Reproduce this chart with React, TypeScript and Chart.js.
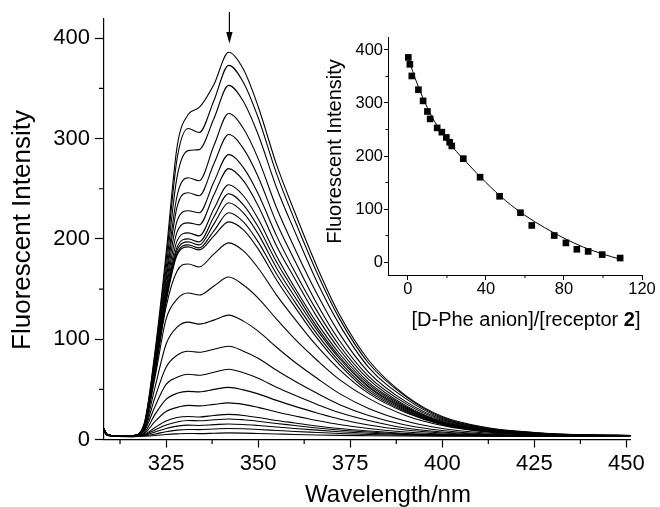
import React, { useEffect, useRef } from "react";
import { Chart, registerables } from "chart.js";

Chart.register(...registerables);

// ---------- Main spectra data ----------
const WAVELENGTHS = [308, 309, 312, 316, 319, 322, 325, 328, 331, 334, 338, 342, 346, 350, 355, 360, 366, 372, 380, 390, 400, 412, 425, 440, 452];

const S01 = [11, 5, 3.5, 3.8, 15, 88, 185, 292, 324, 331, 354, 386, 369, 332, 274, 226, 172, 125, 79, 44, 23, 12, 7, 4.5, 4];
const S02 = [11, 5, 3.5, 3.8, 14.5, 85, 178, 280, 310, 306, 338, 373, 356, 321, 265, 218, 166, 121, 76, 43, 22, 11.5, 6.8, 4.5, 4];
const S03 = [11, 5, 3.5, 3.8, 14, 82, 170, 262, 288, 289, 320, 353, 337, 304, 251, 207, 157, 115, 72, 41, 21, 11, 6.5, 4.4, 4];
const S04 = [11, 5, 3.5, 3.8, 13.5, 80, 163, 243, 261, 258, 293, 325, 310, 280, 231, 190, 145, 106, 67, 38, 20, 10.5, 6.3, 4.3, 4];
const S05 = [11, 5, 3.5, 3.8, 13, 78, 158, 232, 246, 243, 275, 304, 290, 262, 216, 178, 135, 99, 63, 36, 19, 10, 6, 4.3, 4];
const S06 = [11, 5, 3.5, 3.8, 13, 76, 152, 218, 228, 226, 257, 284, 271, 245, 203, 167, 128, 94, 60, 34, 18, 9.5, 5.8, 4.2, 4];
const S07 = [11, 5, 3.5, 3.8, 13, 74, 148, 207, 216, 214, 244, 270, 258, 233, 193, 160, 122, 90, 57, 33, 17.5, 9.3, 5.7, 4.2, 4];
const S08 = [11, 5, 3.5, 3.8, 12.5, 72, 144, 198, 206, 203, 230, 254, 243, 220, 183, 151, 116, 86, 55, 32, 17, 9, 5.6, 4.2, 4];
const S09 = [11, 5, 3.5, 3.8, 12.5, 71, 142, 192, 200, 197, 222, 245, 234, 212, 177, 147, 112, 83, 53, 31, 16.5, 8.8, 5.5, 4.1, 4];
const S10 = [11, 5, 3.5, 3.8, 12.5, 70, 140, 189, 197, 194, 215, 236, 226, 205, 171, 142, 109, 81, 52, 30, 16, 8.6, 5.4, 4.1, 4];
const S11 = [11, 5, 3.5, 3.8, 12, 69, 139, 186, 194, 191, 208, 226, 217, 197, 165, 137, 105, 78, 50, 29, 15.5, 8.4, 5.3, 4.1, 4];
const S12 = [11, 5, 3.5, 3.8, 12, 68, 137, 184, 192, 189, 203, 217, 209, 190, 159, 132, 101, 75, 48, 28, 15, 8.2, 5.2, 4, 4];
const S13 = [11, 5, 3.5, 3.7, 12, 66, 132, 168, 175, 172, 185, 196, 188, 171, 144, 120, 93, 70, 46, 27, 15, 8, 5, 4, 4];
const S14 = [11, 5, 3.5, 3.6, 11, 62, 120, 140, 146, 144, 153, 162, 154, 141, 120, 100, 79, 60, 41, 24, 14, 7.5, 4.8, 4, 4];
const S15 = [10.5, 5, 3.4, 3.5, 10, 52, 95, 112, 117, 115, 119, 124, 118, 108, 92, 77, 61, 46, 31, 18.5, 11, 6.5, 4.5, 4, 4];
const S16 = [10.5, 5, 3.4, 3.4, 9, 42, 72, 84, 88, 87, 90, 93, 88, 81, 69, 58, 46, 35, 24, 14.5, 9, 5.5, 4.2, 3.9, 4];
const S17 = [10, 4.8, 3.3, 3.3, 8, 33, 55, 62, 65, 64, 67, 70, 66.5, 61, 52, 44, 35, 27, 19, 11.5, 7.5, 5, 4, 3.8, 4];
const S18 = [10, 4.8, 3.3, 3.2, 6.5, 25, 40, 46, 48, 47.5, 50, 52, 49.5, 45.5, 39, 33, 26.5, 20.5, 14.5, 9.5, 6.5, 4.5, 3.8, 3.7, 4];
const S19 = [10, 4.6, 3.2, 3.1, 5.5, 18, 28, 32, 34, 33.5, 35, 36.5, 35, 32, 27.5, 23.5, 19, 15, 11, 7.5, 5.5, 4.2, 3.7, 3.6, 4];
const S20 = [9.5, 4.5, 3.2, 3, 4.8, 12, 18.5, 22, 23, 22.5, 24, 25, 24, 22, 19, 16.5, 13.5, 11, 8.5, 6, 4.8, 3.9, 3.6, 3.5, 3.8];
const S21 = [9.5, 4.5, 3.1, 3, 4.4, 9.5, 14.5, 17.5, 19, 18.7, 19.7, 20.5, 19.7, 18.2, 16, 14, 11.5, 9.5, 7.5, 5.5, 4.5, 3.8, 3.5, 3.5, 3.8];
const S22 = [9, 4.4, 3.1, 3, 4, 7.5, 11, 13.3, 14.3, 14, 14.8, 15.5, 15, 14, 12.5, 11, 9.3, 7.8, 6.3, 5, 4.2, 3.7, 3.5, 3.4, 3.7];
const S23 = [9, 4.3, 3, 2.9, 3.7, 5.5, 7.8, 9.3, 10, 9.8, 10.4, 11, 10.7, 10, 9, 8, 7, 6, 5, 4.3, 3.8, 3.5, 3.4, 3.4, 3.6];
const S24 = [9, 4.2, 3, 2.9, 3.3, 4, 5, 5.6, 6, 5.9, 6.2, 6.6, 6.4, 6, 5.5, 5, 4.5, 4.1, 3.8, 3.5, 3.3, 3.2, 3.2, 3.3, 3.5];

const SPECTRA = [S01, S02, S03, S04, S05, S06, S07, S08, S09, S10, S11, S12, S13, S14, S15, S16, S17, S18, S19, S20, S21, S22, S23, S24];

const X_TICKS = [325, 350, 375, 400, 425, 450];
const X_MINOR = [312.5, 337.5, 362.5, 387.5, 412.5, 437.5];
const Y_TICKS = [0, 100, 200, 300, 400];
const Y_MINOR = [50, 150, 250, 350];
const ARROW_AT = 342.2;

const X_TITLE = "Wavelength/nm";
const Y_TITLE = "Fluorescent Intensity";

// ---------- Inset titration data ----------
const RATIO = [0.2, 1, 2, 5.4, 7.8, 10, 11.4, 15, 17.4, 19.7, 21.4, 22.5, 28.4, 37, 47, 57.7, 63.5, 75, 81, 86.6, 92.4, 99.6, 108.8];
const INTENSITY = [386, 373, 351, 325, 304, 284, 270, 253, 245, 235, 226, 219, 195, 160, 124, 93, 69, 50, 36, 24, 20, 14, 7.5];
const FIT_X = [0, 5, 10, 15, 20, 25, 30, 40, 50, 60, 70, 80, 90, 100, 109];
const FIT_Y = [386, 334, 291, 257, 230, 208, 188, 150, 116, 88, 65, 45, 28, 15, 5];

const INSET_X_TICKS = [0, 40, 80, 120];
const INSET_X_MINOR = [20, 60, 100];
const INSET_Y_TICKS = [0, 100, 200, 300, 400];
const INSET_Y_MINOR = [50, 150, 250, 350];
const INSET_X_TITLE_PARTS = [
  { text: "[D-Phe anion]/[receptor ", bold: false },
  { text: "2", bold: true },
  { text: "]", bold: false },
];
const INSET_Y_TITLE = "Fluorescent Intensity";

const FONT = '"Liberation Sans", Arial, Helvetica, sans-serif';
const INK = "#000";

function MainChart() {
  const ref = useRef<HTMLCanvasElement | null>(null);
  useEffect(() => {
    if (!ref.current) return;
    const decor = {
      id: "mainDecor",
      afterDraw(chart: any) {
        const { ctx, chartArea, scales } = chart;
        const x = scales.x;
        const y = scales.y;
        ctx.save();
        ctx.strokeStyle = INK;
        ctx.fillStyle = INK;
        ctx.lineWidth = 1.2;
        ctx.beginPath();
        X_MINOR.forEach((v) => {
          const px = x.getPixelForValue(v);
          ctx.moveTo(px, chartArea.bottom);
          ctx.lineTo(px, chartArea.bottom + 4.5);
        });
        Y_MINOR.forEach((v) => {
          const py = y.getPixelForValue(v);
          ctx.moveTo(chartArea.left, py);
          ctx.lineTo(chartArea.left - 5, py);
        });
        ctx.stroke();
        // arrow
        const ax = x.getPixelForValue(ARROW_AT);
        ctx.beginPath();
        ctx.moveTo(ax, 12);
        ctx.lineTo(ax, 36);
        ctx.stroke();
        ctx.beginPath();
        ctx.moveTo(ax - 3.2, 32);
        ctx.lineTo(ax + 3.2, 32);
        ctx.lineTo(ax, 43.5);
        ctx.closePath();
        ctx.fill();
        // titles
        ctx.textAlign = "center";
        ctx.textBaseline = "middle";
        ctx.font = `24px ${FONT}`;
        ctx.fillText(X_TITLE, 388, 495);
        ctx.translate(23, 230);
        ctx.rotate(-Math.PI / 2);
        ctx.font = `26px ${FONT}`;
        ctx.fillText(Y_TITLE, 0, 0);
        ctx.restore();
      },
    };
    const datasets = SPECTRA.map((s, i) => ({
      label: `spectrum ${i + 1}`,
      data: WAVELENGTHS.map((w, j) => ({ x: w, y: s[j] })),
      borderColor: INK,
      borderWidth: 1.1,
      pointRadius: 0,
      fill: false,
      cubicInterpolationMode: "monotone" as const,
    }));
    const chart = new Chart(ref.current, {
      type: "line",
      data: { datasets },
      options: {
        responsive: false,
        animation: false,
        devicePixelRatio: 1,
        events: [],
        layout: { padding: { left: 0, right: 29.5, top: 13, bottom: 0 } },
        plugins: { legend: { display: false }, tooltip: { enabled: false } },
        scales: {
          x: {
            type: "linear",
            min: 308.15,
            max: 451.1,
            afterFit: (s: any) => {
              s.height = 67.5;
            },
            afterBuildTicks: (s: any) => {
              s.ticks = X_TICKS.map((v) => ({ value: v }));
            },
            grid: { drawOnChartArea: false, tickLength: 8, tickColor: INK, tickWidth: 1.2 },
            border: { display: true, color: INK, width: 1.2 },
            ticks: {
              font: { size: 22, family: FONT },
              color: INK,
              padding: 3,
              maxRotation: 0,
              autoSkip: false,
              callback: (v: any) => String(v),
            },
          },
          y: {
            type: "linear",
            min: 0,
            max: 420,
            afterFit: (s: any) => {
              s.width = 104;
            },
            afterBuildTicks: (s: any) => {
              s.ticks = Y_TICKS.map((v) => ({ value: v }));
            },
            grid: { drawOnChartArea: false, tickLength: 9, tickColor: INK, tickWidth: 1.2 },
            border: { display: true, color: INK, width: 1.2 },
            ticks: {
              font: { size: 22, family: FONT },
              color: INK,
              padding: 5,
              autoSkip: false,
              callback: (v: any) => String(v),
            },
          },
        },
      },
      plugins: [decor],
    });
    return () => chart.destroy();
  }, []);
  return (
    <canvas
      ref={ref}
      width={660}
      height={507}
      style={{ position: "absolute", left: 0, top: 0, width: 660, height: 507 }}
    />
  );
}

function InsetChart() {
  const ref = useRef<HTMLCanvasElement | null>(null);
  useEffect(() => {
    if (!ref.current) return;
    const decor = {
      id: "insetDecor",
      afterDraw(chart: any) {
        const { ctx, chartArea, scales } = chart;
        const x = scales.x;
        const y = scales.y;
        ctx.save();
        ctx.strokeStyle = INK;
        ctx.fillStyle = INK;
        ctx.lineWidth = 1;
        ctx.beginPath();
        INSET_X_MINOR.forEach((v) => {
          const px = x.getPixelForValue(v);
          ctx.moveTo(px, chartArea.bottom);
          ctx.lineTo(px, chartArea.bottom + 3);
        });
        INSET_Y_MINOR.forEach((v) => {
          const py = y.getPixelForValue(v);
          ctx.moveTo(chartArea.left, py);
          ctx.lineTo(chartArea.left - 2.5, py);
        });
        ctx.stroke();
        // x title with bold "2"
        ctx.textBaseline = "middle";
        ctx.textAlign = "left";
        const fontFor = (b: boolean) => `${b ? "bold " : ""}20px ${FONT}`;
        let total = 0;
        INSET_X_TITLE_PARTS.forEach((p) => {
          ctx.font = fontFor(p.bold);
          total += ctx.measureText(p.text).width;
        });
        let cx = 211 - total / 2;
        INSET_X_TITLE_PARTS.forEach((p) => {
          ctx.font = fontFor(p.bold);
          ctx.fillText(p.text, cx, 295);
          cx += ctx.measureText(p.text).width;
        });
        // y title
        ctx.textAlign = "center";
        ctx.translate(20.5, 126.5);
        ctx.rotate(-Math.PI / 2);
        ctx.font = `20px ${FONT}`;
        ctx.fillText(INSET_Y_TITLE, 0, 0);
        ctx.restore();
      },
    };
    const chart = new Chart(ref.current, {
      type: "scatter",
      data: {
        datasets: [
          {
            type: "scatter",
            label: "data",
            data: RATIO.map((r, i) => ({ x: r, y: INTENSITY[i] })),
            pointStyle: "rect",
            pointRadius: 4.7,
            backgroundColor: INK,
            borderColor: INK,
            borderWidth: 0,
            order: 1,
          },
          {
            type: "line",
            label: "fit",
            data: FIT_X.map((r, i) => ({ x: r, y: FIT_Y[i] })),
            borderColor: INK,
            borderWidth: 1,
            pointRadius: 0,
            showLine: true,
            fill: false,
            cubicInterpolationMode: "monotone",
            order: 2,
          } as any,
        ],
      },
      options: {
        responsive: false,
        animation: false,
        devicePixelRatio: 1,
        events: [],
        layout: { padding: { left: 0, right: 18, top: 12, bottom: 0 } },
        plugins: { legend: { display: false }, tooltip: { enabled: false } },
        scales: {
          x: {
            type: "linear",
            min: -10.2,
            max: 120,
            afterFit: (s: any) => {
              s.height = 65;
            },
            afterBuildTicks: (s: any) => {
              s.ticks = INSET_X_TICKS.map((v) => ({ value: v }));
            },
            grid: { drawOnChartArea: false, tickLength: 5, tickColor: INK, tickWidth: 1 },
            border: { display: true, color: INK, width: 1 },
            ticks: {
              font: { size: 16.5, family: FONT },
              color: INK,
              padding: 0,
              maxRotation: 0,
              autoSkip: false,
              callback: (v: any) => String(v),
            },
          },
          y: {
            type: "linear",
            min: -24.5,
            max: 424.5,
            afterFit: (s: any) => {
              s.width = 73;
            },
            afterBuildTicks: (s: any) => {
              s.ticks = INSET_Y_TICKS.map((v) => ({ value: v }));
            },
            grid: { drawOnChartArea: false, tickLength: 4, tickColor: INK, tickWidth: 1 },
            border: { display: true, color: INK, width: 1 },
            ticks: {
              font: { size: 16.5, family: FONT },
              color: INK,
              padding: 1,
              autoSkip: false,
              callback: (v: any) => String(v),
            },
          },
        },
      },
      plugins: [decor],
    });
    return () => chart.destroy();
  }, []);
  return (
    <canvas
      ref={ref}
      width={345}
      height={315}
      style={{ position: "absolute", left: 315, top: 25, width: 345, height: 315 }}
    />
  );
}

export default function App() {
  return (
    <div
      style={{
        position: "fixed",
        left: 0,
        top: 0,
        width: 660,
        height: 507,
        background: "#fff",
        overflow: "hidden",
      }}
    >
      <MainChart />
      <InsetChart />
    </div>
  );
}
